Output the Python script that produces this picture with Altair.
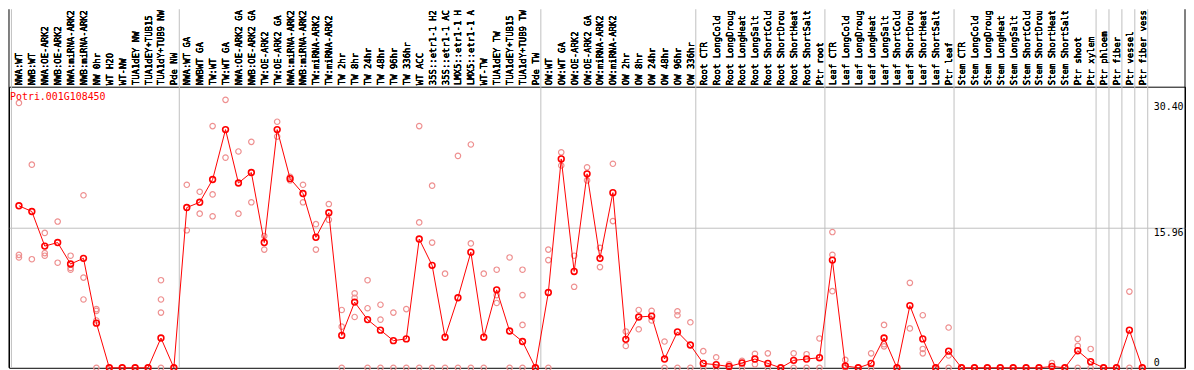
import json
import altair as alt
import pandas as pd

gene = "Potri.001G108450"

labels = [
    "NWA:WT", "NWB:WT", "NWA:OE-ARK2", "NWB:OE-ARK2", "NWA:miRNA-ARK2", "NWB:miRNA-ARK2",
    "NW 0hr", "WT H2O", "WT-NW", "TUA1dEY NW", "TUA1dEY+TUB15", "TUA1dY+TUB9 NW", "Pde NW",
    "NWA:WT GA", "NWBWT GA", "TW:WT", "TW:WT GA", "NWA:OE-ARK2 GA", "NWB:OE-ARK2 GA",
    "TW:OE-ARK2", "TW:OE-ARK2 GA", "NWA:miRNA-ARK2", "NWB:miRNA-ARK2", "TW:miRNA-ARK2",
    "TW:miRNA-ARK2", "TW 2hr", "TW 8hr", "TW 24hr", "TW 48hr", "TW 96hr", "TW 336hr",
    "WT ACC", "35S::etr1-1 H2", "35S::etr1-1 AC", "LMX5::etr1-1 H", "LMX5::etr1-1 A",
    "WT-TW", "TUA1dEY TW", "TUA1dEY+TUB15", "TUA1dY+TUB9 TW", "Pde TW",
    "OW:WT", "OW:WT GA", "OW:OE-ARK2", "OW:OE-ARK2 GA", "OW:miRNA-ARK2", "OW:miRNA-ARK2",
    "OW 2hr", "OW 8hr", "OW 24hr", "OW 48hr", "OW 96hr", "OW 336hr",
    "Root CTR", "Root LongCold", "Root LongDroug", "Root LongHeat", "Root LongSalt",
    "Root ShortCold", "Root ShortDrou", "Root ShortHeat", "Root ShortSalt", "Ptr root",
    "Leaf CTR", "Leaf LongCold", "Leaf LongDroug", "Leaf LongHeat", "Leaf LongSalt",
    "Leaf ShortCold", "Leaf ShortDrou", "Leaf ShortHeat", "Leaf ShortSalt", "Ptr leaf",
    "Stem CTR", "Stem LongCold", "Stem LongDroug", "Stem LongHeat", "Stem LongSalt",
    "Stem ShortCold", "Stem ShortDrou", "Stem ShortHeat", "Stem ShortSalt", "Ptr shoot",
    "Ptr xylem", "Ptr phloem", "Ptr fiber", "Ptr vessel", "Ptr fiber vess",
]

means = [
    18.5, 17.85, 13.9, 14.3, 11.85, 12.5, 5.1, 0, 0, 0, 0, 3.4, 0,
    18.3, 18.9, 21.5, 27.2, 21.1, 22.3, 14.3, 27.2, 21.6, 19.9, 14.9, 17.7,
    3.7, 7.5, 5.5, 4.3, 3.1, 3.3, 14.7, 11.7, 3.5, 8.0, 13.2, 3.5, 8.9, 4.2, 3.0, 0,
    8.6, 23.85, 11.0, 22.15, 12.5, 20.0, 3.25, 5.8, 5.9, 1.0, 4.1, 2.6,
    0.5, 0.35, 0.15, 0.55, 1.0, 0.5, 0, 0.85, 1.0, 1.15,
    12.3, 0.2, 0, 0.5, 3.4, 0, 7.1, 3.3, 0, 1.9,
    0, 0, 0, 0, 0, 0, 0, 0.15, 0, 1.95,
    0.7, 0, 0, 4.3, 0,
]

reps = [
    [30.25, 12.9, 12.6], [23.2, 12.4], [15.4, 13.1, 12.8], [16.7, 12.0], [12.8, 11.4, 11.2],
    [19.7, 10.3, 7.8], [6.7, 6.5, 5.4, 0], [0], [0], [0], [0], [10.0, 7.8, 6.3, 0], [0],
    [20.9, 15.7], [20.1, 17.6], [27.6, 19.8, 17.3], [30.6, 24.0], [24.7, 17.6], [25.8, 18.9],
    [15.05, 13.5], [28.1, 26.4], [21.8, 21.4], [20.9, 18.9], [16.4, 13.5], [18.7, 16.9],
    [6.6, 4.7, 0], [8.5, 8.0, 5.8], [10.0, 6.8, 0], [7.2, 5.5, 0], [6.3, 0], [6.7, 0],
    [27.6, 16.6, 0], [20.8, 14.3, 0], [10.75, 0], [24.2, 0], [25.5, 14.2, 0], [10.75, 0],
    [11.2, 8.3, 7.4], [12.6, 0], [11.2, 8.3, 4.9, 0], [0],
    [13.5, 12.3, 0], [24.6, 23.1], [12.8, 9.25], [22.9, 21.4], [13.7, 11.5], [23.3, 16.75],
    [4.15, 2.5], [6.6, 4.4], [6.5, 5.4], [3.0, 0], [6.45, 6.0, 0], [5.2, 0],
    [1.9, 0], [1.2, 0], [0.4, 0], [0.8, 0], [1.6, 0.4], [1.65, 0], [0], [1.65, 0], [1.55, 0], [3.35, 0],
    [15.5, 12.9, 8.75], [0.9, 0], [0], [1.65, 0], [4.9, 2.7, 2.45], [0], [9.7, 4.5],
    [6.0, 2.15, 1.65], [0], [4.6, 1.4, 0],
    [0], [0], [0], [0], [0], [0], [0], [0.55], [0], [3.3, 2.5, 0],
    [2.15, 0], [0], [0], [8.7, 0], [0],
]

group_starts = [1, 14, 42, 54, 64, 74, 85, 86, 87, 88, 89]
y_ticks = [0, 15.96, 30.40]

# ---- layout ----
W, H = 1184, 283
TOP = 78
STEP = 13.0
FIRST = 10.0
MONO = "DejaVu Sans Mono"
RED = "#FF0000"
PINK = "#EE9090"
GRAY = "#C0C0C0"

n = len(labels)
mean_df = pd.DataFrame({"idx": list(range(1, n + 1)), "value": means})
rep_df = pd.DataFrame(
    [{"idx": i + 1, "value": v} for i, vs in enumerate(reps) for v in vs]
)
sep_df = pd.DataFrame({"idx": [s - 0.58 for s in group_starts]})
title_df = pd.DataFrame({"t": [gene]})

d0 = 1 - FIRST / STEP
x_scale = alt.Scale(domain=[d0, d0 + W / STEP], nice=False, zero=False)
y_scale = alt.Scale(domain=[0, 32.1], nice=False, zero=True)

x_axis = alt.Axis(
    orient="top",
    values=list(range(1, n + 1)),
    labelExpr=json.dumps(labels) + "[datum.value - 1]",
    labelAngle=270,
    labelFont=MONO,
    labelFontSize=9,
    labelColor="black",
    labelPadding=2,
    labelOverlap=False,
    labelFlush=False,
    labelBound=False,
    ticks=False,
    domain=False,
    grid=False,
    title=None,
)
y_axis = alt.Axis(
    orient="right",
    offset=-32,
    values=y_ticks,
    labelExpr="datum.value == 0 ? '0' : format(datum.value, '.2f')",
    labelFont=MONO,
    labelFontSize=10,
    labelColor="black",
    labelPadding=0,
    labelAlign="left",
    labelBaseline={"condition": {"test": "datum.value == 0", "value": "bottom"}, "value": "top"},
    ticks=False,
    domain=False,
    grid=True,
    gridColor=GRAY,
    gridOpacity={"condition": {"test": "datum.value > 15 && datum.value < 16", "value": 1}, "value": 0},
    title=None,
)

X = alt.X("idx:Q", scale=x_scale, axis=x_axis)
Y = alt.Y("value:Q", scale=y_scale, axis=y_axis)

seps = alt.Chart(sep_df).mark_rule(color=GRAY, strokeWidth=1).encode(
    x=X, y=alt.value(-TOP), y2=alt.value(H)
)
borders = alt.Chart(pd.DataFrame({"p": [0, W]})).mark_rule(color="black", strokeWidth=1).encode(
    x=alt.X("p:Q", scale=alt.Scale(domain=[0, W], range=[0, W]), axis=None),
    y=alt.value(-TOP), y2=alt.value(H),
)
rep_pts = alt.Chart(rep_df).mark_point(
    shape="circle", filled=False, color=PINK, size=30, strokeWidth=1.2, opacity=1
).encode(x=X, y=Y)
line = alt.Chart(mean_df).mark_line(color=RED, strokeWidth=1).encode(x=X, y=Y)
mean_pts = alt.Chart(mean_df).mark_point(
    shape="circle", filled=False, color=RED, size=34, strokeWidth=1.6, opacity=1
).encode(x=X, y=Y)
title = alt.Chart(title_df).mark_text(
    align="left", baseline="middle", color=RED, font=MONO, fontSize=10
).encode(text="t:N", x=alt.value(1), y=alt.value(10))

chart = (
    alt.layer(seps, rep_pts, line, mean_pts, title, borders)
    .resolve_scale(x="independent")
    .properties(
        width=W,
        height=H,
        autosize=alt.AutoSizeParams(type="none"),
        padding={"left": 1, "top": TOP, "right": 1, "bottom": 1},
    )
    .configure_view(stroke="black", strokeWidth=1)
)

chart.save("out.html", embed_options={"renderer": "svg", "actions": False})
